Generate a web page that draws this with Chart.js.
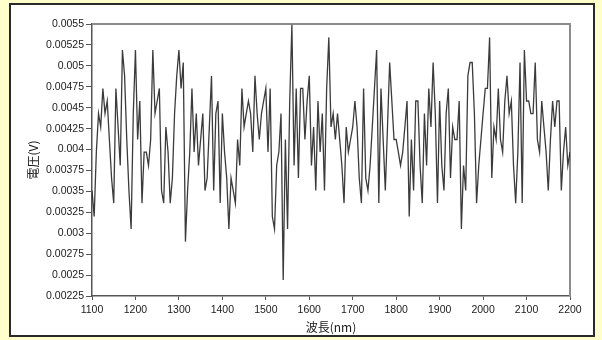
<!DOCTYPE html>
<html>
<head>
<meta charset="utf-8">
<script src="https://cdn.jsdelivr.net/npm/chart.js@4.4.1/dist/chart.umd.min.js"></script>
<style>
    html, body { margin: 0; padding: 0; background: #ffffcc; }
    canvas { display: block; }
</style>
</head>
<body>
<canvas id="spectrum" width="602" height="340"></canvas>
<script>
// Wavelength samples (nm)
const wavelengths = [
    1100, 1105, 1110, 1115, 1120, 1125, 1130, 1135, 1140, 1145,
    1150, 1155, 1160, 1165, 1170, 1175, 1180, 1185, 1190, 1195,
    1200, 1205, 1210, 1215, 1220, 1225, 1230, 1235, 1240, 1245,
    1250, 1255, 1260, 1265, 1270, 1275, 1280, 1285, 1290, 1295,
    1300, 1305, 1310, 1315, 1320, 1325, 1330, 1335, 1340, 1345,
    1350, 1355, 1360, 1365, 1370, 1375, 1380, 1385, 1390, 1395,
    1400, 1405, 1410, 1415, 1420, 1425, 1430, 1435, 1440, 1445,
    1450, 1455, 1460, 1465, 1470, 1475, 1480, 1485, 1490, 1495,
    1500, 1505, 1510, 1515, 1520, 1525, 1530, 1535, 1540, 1545,
    1550, 1555, 1560, 1565, 1570, 1575, 1580, 1585, 1590, 1595,
    1600, 1605, 1610, 1615, 1620, 1625, 1630, 1635, 1640, 1645,
    1650, 1655, 1660, 1665, 1670, 1675, 1680, 1685, 1690, 1695,
    1700, 1705, 1710, 1715, 1720, 1725, 1730, 1735, 1740, 1745,
    1750, 1755, 1760, 1765, 1770, 1775, 1780, 1785, 1790, 1795,
    1800, 1805, 1810, 1815, 1820, 1825, 1830, 1835, 1840, 1845,
    1850, 1855, 1860, 1865, 1870, 1875, 1880, 1885, 1890, 1895,
    1900, 1905, 1910, 1915, 1920, 1925, 1930, 1935, 1940, 1945,
    1950, 1955, 1960, 1965, 1970, 1975, 1980, 1985, 1990, 1995,
    2000, 2005, 2010, 2015, 2020, 2025, 2030, 2035, 2040, 2045,
    2050, 2055, 2060, 2065, 2070, 2075, 2080, 2085, 2090, 2095,
    2100, 2105, 2110, 2115, 2120, 2125, 2130, 2135, 2140, 2145,
    2150, 2155, 2160, 2165, 2170, 2175, 2180, 2185, 2190, 2195,
    2200
];

// Detector voltage (V)
const voltage = [
    0.00351, 0.00320, 0.00397, 0.00443, 0.00427, 0.00473, 0.00443, 0.00458, 0.00412, 0.00366,
    0.00336, 0.00473, 0.00427, 0.00381, 0.00519, 0.00488, 0.00412, 0.00351, 0.00305, 0.00443,
    0.00519, 0.00412, 0.00458, 0.00336, 0.00397, 0.00397, 0.00381, 0.00412, 0.00519, 0.00443,
    0.00458, 0.00473, 0.00351, 0.00336, 0.00427, 0.00397, 0.00336, 0.00366, 0.00443, 0.00488,
    0.00519, 0.00473, 0.00504, 0.00290, 0.00351, 0.00397, 0.00473, 0.00397, 0.00443, 0.00381,
    0.00412, 0.00443, 0.00351, 0.00366, 0.00427, 0.00488, 0.00351, 0.00443, 0.00458, 0.00336,
    0.00443, 0.00397, 0.00366, 0.00305, 0.00366, 0.00351, 0.00336, 0.00412, 0.00381, 0.00473,
    0.00427, 0.00443, 0.00458, 0.00443, 0.00397, 0.00488, 0.00443, 0.00412, 0.00443, 0.00458,
    0.00473, 0.00397, 0.00473, 0.00320, 0.00305, 0.00381, 0.00397, 0.00443, 0.00244, 0.00412,
    0.00305, 0.00458, 0.00549, 0.00381, 0.00473, 0.00366, 0.00473, 0.00473, 0.00412, 0.00458,
    0.00488, 0.00381, 0.00427, 0.00351, 0.00458, 0.00397, 0.00443, 0.00351, 0.00473, 0.00534,
    0.00427, 0.00443, 0.00412, 0.00443, 0.00412, 0.00381, 0.00336, 0.00427, 0.00397, 0.00412,
    0.00427, 0.00458, 0.00427, 0.00366, 0.00336, 0.00473, 0.00366, 0.00351, 0.00381, 0.00427,
    0.00473, 0.00519, 0.00336, 0.00473, 0.00412, 0.00351, 0.00427, 0.00504, 0.00458, 0.00412,
    0.00412, 0.00397, 0.00381, 0.00397, 0.00427, 0.00458, 0.00320, 0.00412, 0.00351, 0.00458,
    0.00458, 0.00381, 0.00336, 0.00443, 0.00381, 0.00473, 0.00427, 0.00504, 0.00443, 0.00336,
    0.00458, 0.00381, 0.00351, 0.00443, 0.00473, 0.00366, 0.00427, 0.00412, 0.00412, 0.00458,
    0.00305, 0.00381, 0.00351, 0.00488, 0.00504, 0.00504, 0.00443, 0.00336, 0.00381, 0.00412,
    0.00443, 0.00473, 0.00473, 0.00534, 0.00366, 0.00427, 0.00412, 0.00473, 0.00412, 0.00397,
    0.00458, 0.00488, 0.00443, 0.00458, 0.00381, 0.00336, 0.00397, 0.00504, 0.00336, 0.00519,
    0.00458, 0.00458, 0.00443, 0.00443, 0.00504, 0.00412, 0.00397, 0.00458, 0.00427, 0.00397,
    0.00351, 0.00412, 0.00458, 0.00427, 0.00458, 0.00458, 0.00351, 0.00397, 0.00427, 0.00381,
    0.00397
];

const xTicks = [1100, 1200, 1300, 1400, 1500, 1600, 1700, 1800, 1900, 2000, 2100, 2200];
const yTicks = [
    0.00225, 0.0025, 0.00275, 0.003, 0.00325, 0.0035, 0.00375,
    0.004, 0.00425, 0.0045, 0.00475, 0.005, 0.00525, 0.0055
];

const xTitle = '波長(nm)';
const yTitle = '電圧(V)';

const tickFont = { family: '"Liberation Sans", Arial, sans-serif', size: 10.5 };
const titleFont = { family: '"Noto Sans CJK JP", sans-serif', size: 12 };

// Yellow backdrop, framed white panel, grey box round the plot
const panelPlugin = {
    id: 'panel',
    beforeDraw(chart) {
        const { ctx, width, height } = chart;
        ctx.save();
        ctx.fillStyle = '#ffffcc';
        ctx.fillRect(0, 0, width, height);
        ctx.fillStyle = '#ffffff';
        ctx.fillRect(9, 3, 586, 334);
        ctx.strokeStyle = '#2a2a2a';
        ctx.lineWidth = 2;
        ctx.strokeRect(10, 4, 584, 332);
        ctx.restore();
    },
    beforeDatasetsDraw(chart) {
        const { ctx, chartArea: a } = chart;
        ctx.save();
        ctx.strokeStyle = '#8c8c8c';
        ctx.lineWidth = 2;
        ctx.beginPath();
        ctx.moveTo(a.left, a.top);
        ctx.lineTo(a.right, a.top);
        ctx.lineTo(a.right, a.bottom);
        ctx.stroke();
        ctx.restore();
    }
};

new Chart(document.getElementById('spectrum'), {
    type: 'line',
    data: {
        labels: wavelengths,
        datasets: [{
            data: voltage,
            borderColor: 'rgba(25, 25, 25, 0.85)',
            borderWidth: 1.3,
            pointRadius: 0,
            tension: 0
        }]
    },
    options: {
        responsive: false,
        animation: false,
        layout: { padding: { left: 0, top: 24, right: 32, bottom: 0 } },
        plugins: {
            legend: { display: false },
            tooltip: { enabled: false }
        },
        scales: {
            x: {
                type: 'linear',
                min: 1100,
                max: 2200,
                afterBuildTicks: axis => { axis.ticks = xTicks.map(v => ({ value: v })); },
                afterFit: axis => { axis.height = 44; },
                grid: { drawOnChartArea: false, drawTicks: true, tickLength: 4, color: '#555' },
                border: { display: true, color: '#555', width: 1.5 },
                ticks: {
                    padding: 4,
                    color: '#1a1a1a',
                    font: tickFont,
                    maxRotation: 0,
                    callback: v => String(v)
                },
                title: {
                    display: true,
                    text: xTitle,
                    color: '#1a1a1a',
                    font: titleFont,
                    padding: { top: 0, bottom: 5 }
                }
            },
            y: {
                min: 0.00225,
                max: 0.0055,
                afterBuildTicks: axis => { axis.ticks = yTicks.map(v => ({ value: v })); },
                afterFit: axis => { axis.width = 92; },
                grid: { drawOnChartArea: false, drawTicks: true, tickLength: 6, color: '#555' },
                border: { display: true, color: '#555', width: 1.5 },
                ticks: {
                    padding: 2,
                    color: '#1a1a1a',
                    font: tickFont,
                    callback: v => String(v)
                },
                title: {
                    display: true,
                    text: yTitle,
                    color: '#1a1a1a',
                    font: titleFont,
                    padding: { top: 26, bottom: 0 }
                }
            }
        }
    },
    plugins: [panelPlugin]
});
</script>
</body>
</html>
